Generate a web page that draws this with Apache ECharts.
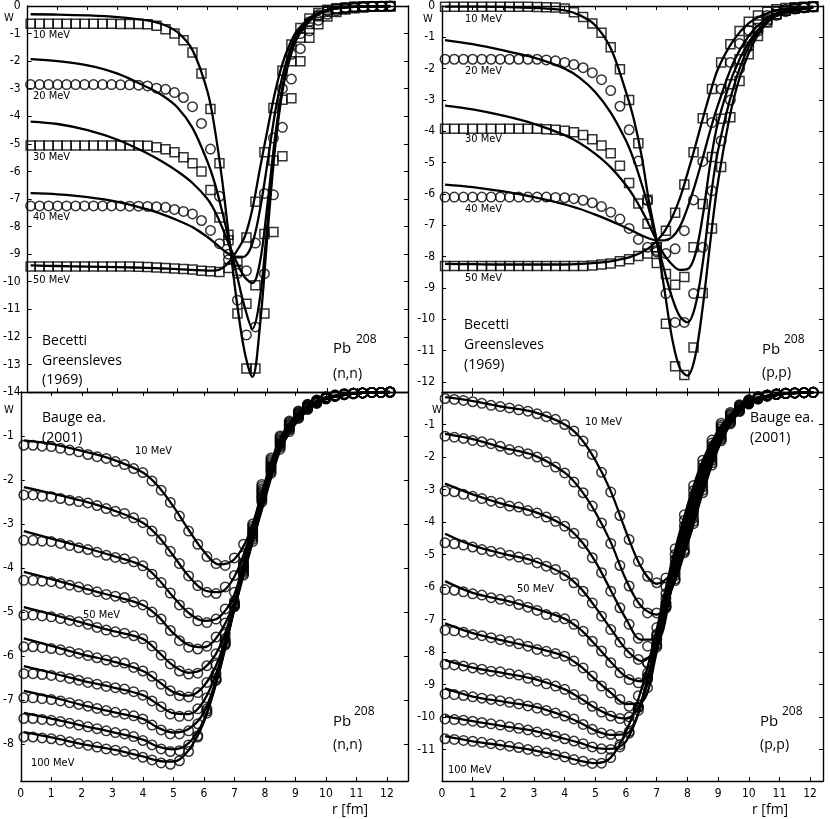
<!DOCTYPE html>
<html>
<head>
<meta charset="utf-8">
<script src="https://cdn.jsdelivr.net/npm/echarts@6/dist/echarts.min.js"></script>
<style>
html, body { margin: 0; padding: 0; background: #fff; }
#chart { width: 830px; height: 819px; }
</style>
</head>
<body>
<div id="chart"></div>
<script>
// ========== radius grids ==========
const rPts = [0.1,0.4,0.7,1.0,1.3,1.6,1.9,2.2,2.5,2.8,3.1,3.4,3.7,4.0,4.3,4.6,4.9,5.2,5.5,5.8,6.1,6.4,6.7,7.0,7.3,7.6,7.9,8.2,8.5,8.8,9.1,9.4,9.7,10.0,10.3,10.6,10.9,11.2,11.5,11.8,12.1];
const topLineR = [0.1,1,2,3,4,4.5,5,5.5,6,6.25,6.5,6.75,7,7.25,7.5,7.75,8,8.25,8.5,8.75,9,9.5,10,10.5,11,12.1];
const botLineR = [0.1,1,2,3,4,4.5,5,5.5,6,6.5,7,7.5,8,8.5,9,9.5,10,11,12.1];
const xTicks = [0,1,2,3,4,5,6,7,8,9,10,11,12];

// ========== Becetti-Greensleves (n,n): fits ==========
const nnFit10 = [-0.3,-0.31,-0.34,-0.4,-0.52,-0.66,-0.95,-1.6,-3.1,-4.5,-6.4,-8.7,-10.9,-12.6,-13.45,-11.6,-8.3,-5.2,-3.1,-1.9,-1.15,-0.45,-0.17,-0.06,-0.03,0];
const nnFit20 = [-1.93,-2.0,-2.15,-2.45,-2.95,-3.25,-3.68,-4.42,-5.65,-6.45,-7.5,-8.65,-9.85,-10.95,-11.7,-10.6,-7.9,-5.0,-3.0,-1.8,-1.1,-0.42,-0.16,-0.06,-0.03,0];
const nnFit30 = [-4.19,-4.28,-4.5,-4.85,-5.35,-5.65,-6.0,-6.42,-7.0,-7.45,-8.05,-8.75,-9.35,-9.85,-10.05,-9.3,-7.2,-4.8,-2.95,-1.78,-1.08,-0.41,-0.15,-0.06,-0.02,0];
const nnFit40 = [-6.79,-6.83,-6.93,-7.1,-7.38,-7.56,-7.77,-8.02,-8.38,-8.6,-8.83,-9.02,-9.12,-9.08,-8.6,-7.4,-5.7,-3.9,-2.55,-1.62,-1.0,-0.38,-0.14,-0.05,-0.02,0];
const nnFit50 = [-9.41,-9.43,-9.45,-9.47,-9.5,-9.52,-9.54,-9.57,-9.6,-9.6,-9.5,-9.25,-8.85,-8.35,-7.35,-5.9,-4.5,-3.15,-2.1,-1.38,-0.88,-0.36,-0.14,-0.05,-0.02,0];

// ========== Becetti-Greensleves (n,n): points ==========
const nnPts10 = [-0.64,-0.64,-0.64,-0.64,-0.64,-0.64,-0.64,-0.64,-0.64,-0.64,-0.65,-0.65,-0.65,-0.66,-0.72,-0.84,-1.0,-1.24,-1.69,-2.45,-3.74,-5.7,-8.3,-11.15,-13.15,-13.15,-11.15,-8.2,-5.45,-3.35,-2.0,-1.15,-0.66,-0.38,-0.22,-0.13,-0.08,-0.05,-0.03,-0.02,-0.01];
const nnPts20 = [-2.85,-2.85,-2.85,-2.85,-2.85,-2.85,-2.85,-2.85,-2.85,-2.85,-2.86,-2.86,-2.87,-2.9,-2.98,-3.02,-3.14,-3.32,-3.65,-4.26,-5.19,-6.9,-9.0,-10.67,-11.93,-11.64,-9.71,-6.85,-4.4,-2.65,-1.55,-0.9,-0.52,-0.3,-0.18,-0.1,-0.06,-0.04,-0.02,-0.01,-0.01];
const nnPts30 = [-5.06,-5.06,-5.06,-5.06,-5.06,-5.06,-5.06,-5.06,-5.06,-5.06,-5.06,-5.06,-5.06,-5.07,-5.12,-5.2,-5.3,-5.49,-5.7,-6.0,-6.67,-7.67,-8.5,-9.6,-10.8,-10.13,-8.27,-5.6,-3.4,-2.0,-1.15,-0.65,-0.37,-0.21,-0.12,-0.07,-0.04,-0.03,-0.02,-0.01,-0.01];
const nnPts40 = [-7.25,-7.25,-7.25,-7.25,-7.25,-7.25,-7.25,-7.25,-7.25,-7.25,-7.25,-7.26,-7.26,-7.27,-7.28,-7.3,-7.38,-7.45,-7.54,-7.78,-8.14,-8.62,-9.2,-9.7,-9.6,-8.6,-6.8,-4.79,-3.0,-1.75,-1.0,-0.57,-0.32,-0.18,-0.1,-0.06,-0.04,-0.02,-0.01,-0.01,0];
const nnPts50 = [-9.45,-9.45,-9.45,-9.45,-9.45,-9.45,-9.45,-9.45,-9.45,-9.45,-9.45,-9.45,-9.46,-9.47,-9.48,-9.5,-9.52,-9.54,-9.56,-9.6,-9.62,-9.65,-9.5,-9.24,-8.4,-7.1,-5.3,-3.7,-2.35,-1.4,-0.8,-0.45,-0.25,-0.14,-0.08,-0.05,-0.03,-0.02,-0.01,-0.01,0];

// ========== Becetti-Greensleves (p,p): fits ==========
const ppFit10 = [-0.02,-0.02,-0.03,-0.06,-0.14,-0.3,-0.62,-1.35,-2.75,-3.6,-4.75,-6.25,-7.5,-9.05,-10.6,-11.55,-11.8,-11.2,-9.6,-7.5,-5.6,-3.0,-1.5,-0.65,-0.27,-0.04];
const ppFit20 = [-1.09,-1.22,-1.42,-1.65,-2.0,-2.3,-2.75,-3.4,-4.3,-4.9,-5.65,-6.5,-7.5,-8.45,-9.3,-9.9,-10.1,-9.6,-8.2,-6.2,-4.6,-2.6,-1.3,-0.6,-0.25,-0.04];
const ppFit30 = [-3.18,-3.3,-3.5,-3.76,-4.12,-4.38,-4.72,-5.15,-5.72,-6.08,-6.5,-6.98,-7.5,-7.95,-8.25,-8.42,-8.4,-7.95,-6.7,-5.0,-3.7,-2.15,-1.15,-0.55,-0.24,-0.04];
const ppFit40 = [-5.7,-5.78,-5.92,-6.1,-6.33,-6.48,-6.66,-6.86,-7.08,-7.2,-7.32,-7.42,-7.48,-7.48,-7.38,-7.05,-6.45,-5.7,-4.85,-3.95,-3.15,-1.8,-0.95,-0.45,-0.2,-0.03];
const ppFit50 = [-8.23,-8.24,-8.25,-8.25,-8.25,-8.23,-8.2,-8.15,-8.05,-7.97,-7.87,-7.72,-7.5,-7.2,-6.75,-6.15,-5.35,-4.5,-3.6,-2.75,-2.0,-1.1,-0.55,-0.27,-0.12,-0.02];

// ========== Becetti-Greensleves (p,p): points ==========
const ppPts10 = [-0.02,-0.02,-0.02,-0.02,-0.02,-0.02,-0.02,-0.02,-0.02,-0.02,-0.03,-0.04,-0.05,-0.08,-0.2,-0.35,-0.56,-0.85,-1.32,-2.02,-3.0,-4.38,-6.18,-8.2,-10.14,-11.5,-11.78,-10.9,-9.16,-7.1,-5.14,-3.55,-2.39,-1.54,-0.96,-0.53,-0.27,-0.14,-0.08,-0.04,-0.02];
const ppPts20 = [-1.7,-1.7,-1.7,-1.7,-1.7,-1.7,-1.7,-1.7,-1.7,-1.7,-1.7,-1.72,-1.75,-1.8,-1.87,-1.97,-2.13,-2.35,-2.7,-3.2,-3.95,-4.95,-6.2,-7.8,-9.18,-10.1,-10.1,-9.18,-7.7,-5.9,-4.3,-3.0,-2.0,-1.3,-0.8,-0.5,-0.3,-0.18,-0.1,-0.06,-0.03];
const ppPts30 = [-3.92,-3.92,-3.92,-3.92,-3.92,-3.92,-3.92,-3.92,-3.92,-3.92,-3.92,-3.93,-3.95,-3.98,-4.03,-4.12,-4.25,-4.45,-4.7,-5.1,-5.65,-6.3,-6.95,-7.7,-8.55,-8.9,-8.65,-7.7,-6.32,-4.82,-3.6,-2.5,-1.7,-1.1,-0.7,-0.43,-0.26,-0.15,-0.09,-0.05,-0.03];
const ppPts40 = [-6.1,-6.1,-6.1,-6.1,-6.1,-6.1,-6.1,-6.1,-6.1,-6.1,-6.1,-6.1,-6.11,-6.12,-6.15,-6.2,-6.28,-6.4,-6.58,-6.8,-7.1,-7.45,-7.7,-7.85,-7.9,-7.75,-7.17,-6.19,-4.96,-3.72,-2.65,-1.8,-1.2,-0.78,-0.48,-0.3,-0.18,-0.1,-0.06,-0.04,-0.02];
const ppPts50 = [-8.3,-8.3,-8.3,-8.3,-8.3,-8.3,-8.3,-8.3,-8.3,-8.3,-8.3,-8.3,-8.3,-8.3,-8.3,-8.3,-8.28,-8.25,-8.22,-8.15,-8.08,-7.98,-7.9,-7.7,-7.17,-6.6,-5.7,-4.67,-3.58,-2.65,-1.8,-1.22,-0.8,-0.5,-0.3,-0.18,-0.1,-0.06,-0.04,-0.02,-0.01];

// ========== Bauge (n,n): fits, 10..100 MeV ==========
const bnFit = [
  [-1.1,-1.18,-1.34,-1.53,-1.83,-2.14,-2.6,-3.13,-3.62,-3.92,-3.8,-3.2,-2.05,-1.05,-0.55,-0.27,-0.12,-0.03,0],
  [-2.16,-2.3,-2.47,-2.68,-2.97,-3.28,-3.72,-4.18,-4.5,-4.55,-4.2,-3.28,-2.1,-1.08,-0.57,-0.28,-0.12,-0.03,0],
  [-3.16,-3.33,-3.52,-3.72,-3.95,-4.25,-4.66,-5.02,-5.2,-5.12,-4.6,-3.35,-2.15,-1.12,-0.59,-0.29,-0.13,-0.03,0],
  [-4.09,-4.25,-4.45,-4.63,-4.84,-5.1,-5.48,-5.75,-5.8,-5.5,-4.76,-3.4,-2.2,-1.15,-0.61,-0.3,-0.13,-0.03,0],
  [-4.89,-5.05,-5.24,-5.43,-5.61,-5.9,-6.22,-6.38,-6.28,-5.82,-4.82,-3.45,-2.24,-1.18,-0.63,-0.31,-0.14,-0.03,0],
  [-5.6,-5.77,-5.96,-6.12,-6.34,-6.57,-6.82,-6.9,-6.68,-6.05,-4.85,-3.5,-2.28,-1.21,-0.65,-0.32,-0.14,-0.03,0],
  [-6.23,-6.38,-6.56,-6.71,-6.89,-7.1,-7.3,-7.32,-7.02,-6.2,-4.88,-3.54,-2.32,-1.24,-0.67,-0.33,-0.15,-0.03,0],
  [-6.79,-6.93,-7.11,-7.27,-7.43,-7.63,-7.74,-7.66,-7.28,-6.3,-4.9,-3.58,-2.36,-1.27,-0.69,-0.34,-0.15,-0.03,0],
  [-7.29,-7.42,-7.58,-7.73,-7.9,-8.06,-8.12,-7.98,-7.45,-6.35,-4.92,-3.62,-2.4,-1.3,-0.71,-0.35,-0.16,-0.03,0],
  [-7.73,-7.85,-8.0,-8.12,-8.28,-8.38,-8.4,-8.14,-7.5,-6.38,-4.95,-3.66,-2.44,-1.33,-0.73,-0.36,-0.16,-0.03,0]
];

// ========== Bauge (n,n): points ==========
const bnPts = [
  [-1.21,-1.21,-1.23,-1.24,-1.28,-1.32,-1.36,-1.42,-1.47,-1.51,-1.58,-1.65,-1.74,-1.83,-2.02,-2.23,-2.51,-2.82,-3.16,-3.46,-3.74,-3.9,-3.94,-3.77,-3.46,-3.0,-2.1,-1.5,-1.0,-0.66,-0.43,-0.28,-0.18,-0.11,-0.07,-0.04,-0.03,-0.02,-0.01,-0.01,0],
  [-2.34,-2.34,-2.37,-2.38,-2.42,-2.46,-2.49,-2.52,-2.58,-2.65,-2.71,-2.76,-2.86,-2.97,-3.16,-3.35,-3.62,-3.9,-4.18,-4.4,-4.55,-4.58,-4.43,-4.17,-3.72,-3.05,-2.15,-1.54,-1.03,-0.69,-0.45,-0.29,-0.19,-0.12,-0.07,-0.04,-0.03,-0.02,-0.01,-0.01,0],
  [-3.37,-3.37,-3.39,-3.4,-3.44,-3.49,-3.54,-3.58,-3.64,-3.71,-3.76,-3.79,-3.86,-3.95,-4.14,-4.33,-4.57,-4.84,-5.02,-5.2,-5.24,-5.16,-4.93,-4.55,-3.88,-3.1,-2.2,-1.58,-1.06,-0.71,-0.47,-0.3,-0.2,-0.12,-0.08,-0.05,-0.03,-0.02,-0.01,-0.01,0],
  [-4.28,-4.28,-4.3,-4.31,-4.35,-4.39,-4.43,-4.49,-4.54,-4.6,-4.64,-4.67,-4.77,-4.84,-5.0,-5.16,-5.42,-5.65,-5.8,-5.84,-5.78,-5.57,-5.25,-4.75,-3.92,-3.14,-2.24,-1.62,-1.09,-0.74,-0.49,-0.31,-0.2,-0.13,-0.08,-0.05,-0.03,-0.02,-0.01,-0.01,0],
  [-5.07,-5.07,-5.09,-5.11,-5.15,-5.19,-5.22,-5.28,-5.35,-5.41,-5.45,-5.48,-5.54,-5.61,-5.77,-5.98,-6.18,-6.34,-6.41,-6.39,-6.22,-5.95,-5.5,-4.8,-3.96,-3.18,-2.28,-1.66,-1.12,-0.76,-0.5,-0.33,-0.21,-0.13,-0.08,-0.05,-0.03,-0.02,-0.01,-0.01,0],
  [-5.79,-5.79,-5.81,-5.83,-5.86,-5.9,-5.94,-5.99,-6.04,-6.09,-6.13,-6.16,-6.26,-6.34,-6.46,-6.64,-6.79,-6.9,-6.93,-6.83,-6.6,-6.2,-5.6,-4.82,-4.0,-3.22,-2.33,-1.7,-1.15,-0.78,-0.52,-0.34,-0.22,-0.14,-0.09,-0.05,-0.03,-0.02,-0.01,-0.01,0],
  [-6.4,-6.4,-6.42,-6.44,-6.47,-6.51,-6.55,-6.6,-6.64,-6.69,-6.72,-6.75,-6.81,-6.89,-7.02,-7.15,-7.32,-7.37,-7.36,-7.2,-6.95,-6.4,-5.65,-4.83,-4.04,-3.26,-2.37,-1.73,-1.18,-0.81,-0.54,-0.35,-0.23,-0.14,-0.09,-0.05,-0.03,-0.02,-0.01,-0.01,0],
  [-6.95,-6.95,-6.97,-6.99,-7.02,-7.06,-7.1,-7.14,-7.19,-7.24,-7.28,-7.32,-7.36,-7.43,-7.57,-7.68,-7.77,-7.77,-7.7,-7.54,-7.2,-6.5,-5.7,-4.85,-4.08,-3.3,-2.41,-1.77,-1.21,-0.83,-0.56,-0.37,-0.24,-0.15,-0.09,-0.06,-0.04,-0.02,-0.01,-0.01,0],
  [-7.42,-7.42,-7.44,-7.46,-7.49,-7.53,-7.57,-7.61,-7.65,-7.7,-7.74,-7.77,-7.83,-7.92,-8.02,-8.11,-8.17,-8.15,-8.02,-7.81,-7.3,-6.55,-5.72,-4.86,-4.12,-3.35,-2.45,-1.81,-1.25,-0.86,-0.58,-0.38,-0.25,-0.15,-0.1,-0.06,-0.04,-0.02,-0.01,-0.01,0],
  [-7.84,-7.84,-7.86,-7.88,-7.91,-7.95,-7.99,-8.03,-8.07,-8.11,-8.14,-8.17,-8.23,-8.3,-8.36,-8.43,-8.46,-8.38,-8.17,-7.84,-7.25,-6.55,-5.75,-4.88,-4.16,-3.4,-2.5,-1.85,-1.3,-0.9,-0.6,-0.4,-0.26,-0.16,-0.1,-0.06,-0.04,-0.02,-0.01,-0.01,0]
];

// ========== Bauge (p,p): fits ==========
const bpFit = [
  [-0.16,-0.28,-0.46,-0.62,-1.0,-1.4,-2.1,-3.05,-4.3,-5.4,-5.9,-5.55,-4.65,-3.1,-1.75,-0.85,-0.37,-0.08,-0.01],
  [-1.29,-1.45,-1.72,-1.95,-2.48,-2.98,-3.7,-4.62,-5.78,-6.6,-6.85,-6.05,-4.65,-3.02,-1.7,-0.83,-0.36,-0.08,-0.01],
  [-2.82,-3.15,-3.45,-3.68,-4.12,-4.55,-5.22,-6.1,-6.98,-7.62,-7.62,-6.0,-4.5,-2.93,-1.63,-0.8,-0.34,-0.08,-0.01],
  [-4.36,-4.72,-4.98,-5.2,-5.62,-6.02,-6.62,-7.28,-7.92,-8.28,-7.8,-5.95,-4.38,-2.82,-1.56,-0.77,-0.33,-0.07,-0.01],
  [-5.82,-6.18,-6.4,-6.66,-6.98,-7.3,-7.78,-8.3,-8.76,-8.9,-7.95,-5.9,-4.27,-2.7,-1.5,-0.74,-0.31,-0.07,-0.01],
  [-7.12,-7.42,-7.65,-7.86,-8.13,-8.43,-8.85,-9.25,-9.6,-9.55,-8.0,-5.85,-4.13,-2.58,-1.43,-0.71,-0.3,-0.07,-0.01],
  [-8.25,-8.48,-8.65,-8.83,-9.15,-9.42,-9.72,-9.95,-10.05,-9.5,-7.85,-5.7,-3.98,-2.46,-1.36,-0.68,-0.28,-0.07,-0.01],
  [-9.12,-9.37,-9.53,-9.68,-9.97,-10.18,-10.42,-10.55,-10.52,-9.6,-7.7,-5.55,-3.82,-2.34,-1.3,-0.65,-0.27,-0.07,-0.01],
  [-9.97,-10.13,-10.28,-10.43,-10.67,-10.8,-10.95,-10.98,-10.75,-9.55,-7.5,-5.4,-3.66,-2.22,-1.24,-0.62,-0.25,-0.07,-0.01],
  [-10.59,-10.75,-10.88,-11.03,-11.23,-11.35,-11.42,-11.25,-10.45,-9.15,-7.3,-5.2,-3.5,-2.1,-1.18,-0.6,-0.24,-0.07,-0.01]
];

// ========== Bauge (p,p): points ==========
const bpPts = [
  [-0.2,-0.23,-0.26,-0.3,-0.35,-0.41,-0.45,-0.49,-0.55,-0.59,-0.67,-0.76,-0.84,-1.0,-1.2,-1.51,-1.92,-2.47,-3.08,-3.8,-4.54,-5.21,-5.67,-5.87,-5.72,-5.4,-4.9,-4.05,-3.1,-2.25,-1.5,-0.98,-0.6,-0.37,-0.22,-0.13,-0.08,-0.05,-0.03,-0.02,-0.01],
  [-1.36,-1.39,-1.43,-1.49,-1.53,-1.59,-1.67,-1.77,-1.82,-1.9,-2.0,-2.15,-2.31,-2.49,-2.77,-3.1,-3.51,-4.03,-4.66,-5.34,-5.97,-6.49,-6.8,-6.8,-6.49,-5.8,-4.95,-3.98,-3.02,-2.18,-1.45,-0.95,-0.58,-0.36,-0.21,-0.13,-0.08,-0.05,-0.03,-0.02,-0.01],
  [-3.05,-3.07,-3.15,-3.21,-3.28,-3.36,-3.41,-3.51,-3.54,-3.65,-3.72,-3.85,-3.98,-4.13,-4.35,-4.66,-5.1,-5.56,-6.13,-6.64,-7.15,-7.58,-7.82,-7.5,-6.65,-5.75,-4.85,-3.88,-2.93,-2.1,-1.4,-0.91,-0.56,-0.34,-0.2,-0.12,-0.07,-0.05,-0.03,-0.02,-0.01],
  [-4.64,-4.67,-4.71,-4.77,-4.85,-4.9,-4.95,-5.02,-5.08,-5.15,-5.26,-5.36,-5.46,-5.65,-5.87,-6.13,-6.49,-6.9,-7.31,-7.7,-8.03,-8.23,-8.32,-7.6,-6.6,-5.65,-4.72,-3.75,-2.82,-2.02,-1.34,-0.87,-0.53,-0.33,-0.19,-0.11,-0.07,-0.04,-0.03,-0.02,-0.01],
  [-6.08,-6.1,-6.15,-6.21,-6.25,-6.33,-6.38,-6.42,-6.54,-6.62,-6.72,-6.85,-6.93,-6.98,-7.15,-7.36,-7.67,-7.97,-8.33,-8.64,-8.85,-8.95,-8.75,-7.8,-6.6,-5.55,-4.6,-3.62,-2.7,-1.93,-1.28,-0.83,-0.51,-0.31,-0.18,-0.11,-0.07,-0.04,-0.03,-0.02,-0.01],
  [-7.33,-7.35,-7.39,-7.46,-7.5,-7.56,-7.62,-7.67,-7.75,-7.82,-7.92,-7.98,-8.05,-8.13,-8.28,-8.49,-8.74,-9.05,-9.26,-9.46,-9.67,-9.7,-9.1,-7.85,-6.6,-5.45,-4.45,-3.48,-2.58,-1.84,-1.21,-0.79,-0.48,-0.3,-0.17,-0.1,-0.06,-0.04,-0.03,-0.02,-0.01],
  [-8.38,-8.4,-8.43,-8.49,-8.53,-8.59,-8.61,-8.67,-8.71,-8.81,-8.9,-8.98,-9.05,-9.15,-9.31,-9.46,-9.67,-9.85,-9.97,-10.05,-10.0,-9.7,-8.85,-7.75,-6.5,-5.3,-4.3,-3.33,-2.46,-1.75,-1.14,-0.75,-0.46,-0.28,-0.16,-0.1,-0.06,-0.04,-0.03,-0.02,-0.01],
  [-9.29,-9.31,-9.34,-9.38,-9.42,-9.46,-9.5,-9.55,-9.6,-9.66,-9.73,-9.8,-9.88,-9.97,-10.06,-10.23,-10.38,-10.49,-10.54,-10.59,-10.45,-9.8,-8.8,-7.6,-6.35,-5.15,-4.12,-3.18,-2.34,-1.66,-1.08,-0.71,-0.43,-0.27,-0.16,-0.1,-0.06,-0.04,-0.03,-0.02,-0.01],
  [-10.06,-10.08,-10.1,-10.13,-10.17,-10.21,-10.25,-10.3,-10.35,-10.4,-10.46,-10.52,-10.59,-10.67,-10.74,-10.82,-10.92,-10.98,-11.0,-10.92,-10.5,-9.7,-8.65,-7.45,-6.2,-5.0,-3.95,-3.03,-2.22,-1.57,-1.02,-0.67,-0.41,-0.25,-0.15,-0.09,-0.06,-0.04,-0.03,-0.02,-0.01],
  [-10.67,-10.69,-10.72,-10.75,-10.78,-10.82,-10.86,-10.9,-10.94,-11.0,-11.05,-11.1,-11.16,-11.23,-11.31,-11.36,-11.43,-11.42,-11.25,-10.85,-10.15,-9.35,-8.35,-7.25,-6.0,-4.82,-3.78,-2.88,-2.1,-1.48,-0.96,-0.63,-0.39,-0.24,-0.15,-0.09,-0.06,-0.04,-0.03,-0.02,-0.01]
];

// ========== helpers ==========
const tickFont = '"Liberation Sans Narrow", "DejaVu Sans Condensed", "Roboto", sans-serif';
const textFont = '"Open Sans", "Noto Sans", sans-serif';

function range(a, b) {
  const out = [];
  for (let v = a; v >= b; v--) out.push(v);
  return out;
}

function xAxis(gi, max, pos, labels) {
  return {
    type: "value", gridIndex: gi, position: pos, min: 0, max: max,
    axisLine: { show: true, onZero: false, lineStyle: { color: "#000", width: 1.4 } },
    axisTick: { show: true, inside: true, length: 4, customValues: xTicks, lineStyle: { color: "#000" } },
    axisLabel: { show: labels, customValues: xTicks, color: "#000", fontSize: 12, fontFamily: tickFont, margin: 7 },
    splitLine: { show: false },
  };
}

function yAxis(gi, min, pos, labelVals, tickVals) {
  return {
    type: "value", gridIndex: gi, position: pos, min: min, max: 0,
    axisLine: { show: true, onZero: false, lineStyle: { color: "#000", width: 1.4 } },
    axisTick: { show: true, inside: true, length: 4, customValues: tickVals, lineStyle: { color: "#000" } },
    axisLabel: { show: labelVals.length > 0, customValues: labelVals, color: "#000", fontSize: 12, fontFamily: tickFont, margin: 7 },
    splitLine: { show: false },
  };
}

function fitSeries(gi, xs, ys) {
  return {
    type: "line", xAxisIndex: gi * 2, yAxisIndex: gi * 2,
    data: xs.map((x, i) => [x, ys[i]]),
    showSymbol: false, smooth: 0.35, silent: true, z: 3,
    lineStyle: { color: "#000", width: 2.3 },
  };
}

function pointSeries(gi, sym, ys) {
  return {
    type: "scatter", xAxisIndex: gi * 2, yAxisIndex: gi * 2,
    data: rPts.map((x, i) => [x, ys[i]]),
    symbol: sym, symbolSize: sym === "rect" ? 9 : 9.5, silent: true, clip: false, z: 2,
    itemStyle: { color: "rgba(0,0,0,0)", borderColor: "#000", borderWidth: 1.5 },
  };
}

function label(text, x, y, font) {
  return {
    type: "text", x: x, y: y, silent: true,
    style: { text: text, font: font, fill: "#000", textVerticalAlign: "middle", verticalAlign: "middle" },
  };
}

// ========== layout ==========
const grids = [
  { left: 20, top: 5, width: 388, height: 387 },
  { left: 442, top: 5, width: 381, height: 387 },
  { left: 20, top: 392, width: 388, height: 389 },
  { left: 442, top: 392, width: 381, height: 389 },
];

const xAxes = [
  xAxis(0, 12.69, "bottom", false), xAxis(0, 12.69, "top", false),
  xAxis(1, 12.42, "bottom", false), xAxis(1, 12.42, "top", false),
  xAxis(2, 12.69, "bottom", true), xAxis(2, 12.69, "top", false),
  xAxis(3, 12.42, "bottom", true), xAxis(3, 12.42, "top", false),
];

const yAxes = [
  yAxis(0, -14, "left", range(0, -14), range(0, -14)), yAxis(0, -14, "right", [], range(0, -14)),
  yAxis(1, -12.32, "left", range(0, -12), range(0, -12)), yAxis(1, -12.32, "right", [], range(0, -12)),
  yAxis(2, -8.84, "left", range(-1, -8), range(-1, -8)), yAxis(2, -8.84, "right", [], range(-1, -8)),
  yAxis(3, -11.97, "left", range(-1, -11), range(-1, -11)), yAxis(3, -11.97, "right", [], range(-1, -11)),
];

const series = [
  fitSeries(0, topLineR, nnFit10), fitSeries(0, topLineR, nnFit20), fitSeries(0, topLineR, nnFit30),
  fitSeries(0, topLineR, nnFit40), fitSeries(0, topLineR, nnFit50),
  pointSeries(0, "rect", nnPts10), pointSeries(0, "circle", nnPts20), pointSeries(0, "rect", nnPts30),
  pointSeries(0, "circle", nnPts40), pointSeries(0, "rect", nnPts50),
  fitSeries(1, topLineR, ppFit10), fitSeries(1, topLineR, ppFit20), fitSeries(1, topLineR, ppFit30),
  fitSeries(1, topLineR, ppFit40), fitSeries(1, topLineR, ppFit50),
  pointSeries(1, "rect", ppPts10), pointSeries(1, "circle", ppPts20), pointSeries(1, "rect", ppPts30),
  pointSeries(1, "circle", ppPts40), pointSeries(1, "rect", ppPts50),
];
bnFit.forEach((ys) => series.push(fitSeries(2, botLineR, ys)));
bnPts.forEach((ys) => series.push(pointSeries(2, "circle", ys)));
bpFit.forEach((ys) => series.push(fitSeries(3, botLineR, ys)));
bpPts.forEach((ys) => series.push(pointSeries(3, "circle", ys)));

const fMeV = "11px " + tickFont;
const fBig = "14px " + textFont;
const fSup = "12px " + textFont;
const fPb = "15px " + textFont;

const texts = [
  // top-left
  label("W", 4, 18, fMeV),
  label("10 MeV", 33, 35, fMeV), label("20 MeV", 33, 96, fMeV), label("30 MeV", 33, 157, fMeV),
  label("40 MeV", 33, 217, fMeV), label("50 MeV", 33, 280, fMeV),
  label("Becetti", 42, 341, fBig), label("Greensleves", 42, 361, fBig), label("(1969)", 42, 380, fBig),
  label("Pb", 333, 349, fPb), label("208", 356, 340, fSup), label("(n,n)", 333, 374, fBig),
  // top-right
  label("W", 423, 19, fMeV),
  label("10 MeV", 465, 19, fMeV), label("20 MeV", 465, 71, fMeV), label("30 MeV", 465, 139, fMeV),
  label("40 MeV", 465, 209, fMeV), label("50 MeV", 465, 278, fMeV),
  label("Becetti", 464, 325, fBig), label("Greensleves", 464, 345, fBig), label("(1969)", 464, 365, fBig),
  label("Pb", 762, 350, fPb), label("208", 784, 340, fSup), label("(p,p)", 762, 373, fBig),
  // bottom-left
  label("W", 4, 410, fMeV),
  label("Bauge ea.", 42, 418, fBig), label("(2001)", 42, 438, fBig),
  label("10 MeV", 135, 451, fMeV), label("50 MeV", 83, 615, fMeV), label("100 MeV", 31, 763, fMeV),
  label("Pb", 333, 722, fPb), label("208", 354, 712, fSup), label("(n,n)", 333, 745, fBig),
  label("r [fm]", 332, 810, fBig),
  // bottom-right
  label("W", 432, 410, fMeV),
  label("Bauge ea.", 750, 418, fBig), label("(2001)", 750, 438, fBig),
  label("10 MeV", 585, 422, fMeV), label("50 MeV", 517, 589, fMeV), label("100 MeV", 448, 770, fMeV),
  label("Pb", 760, 722, fPb), label("208", 782, 712, fSup), label("(p,p)", 760, 745, fBig),
  label("r [fm]", 752, 810, fBig),
];

const chart = echarts.init(document.getElementById("chart"), null, { renderer: "canvas" });
chart.setOption({
  backgroundColor: "#fff",
  animation: false,
  grid: grids,
  xAxis: xAxes,
  yAxis: yAxes,
  series: series,
  graphic: texts,
});
</script>
</body>
</html>
